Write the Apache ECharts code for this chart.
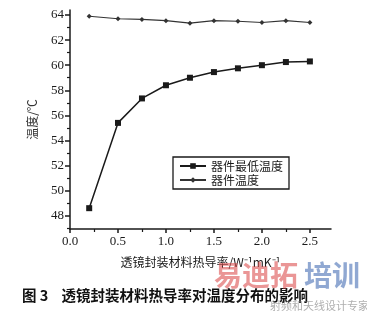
<!DOCTYPE html>
<html><head><meta charset="utf-8">
<script src="https://cdn.jsdelivr.net/npm/echarts@6/dist/echarts.min.js"></script>
<style>html,body{margin:0;padding:0;background:#fff}#c{width:367px;height:314px}</style>
</head><body><div id="c"></div>
<script>
const conductivity = [0.2, 0.5, 0.75, 1.0, 1.25, 1.5, 1.75, 2.0, 2.25, 2.5];
const minTemp = [48.6, 55.4, 57.35, 58.4, 59.0, 59.45, 59.75, 60.0, 60.25, 60.3];
const devTemp = [63.9, 63.7, 63.65, 63.55, 63.35, 63.55, 63.5, 63.4, 63.55, 63.4];
const seriesNames = ['器件最低温度', '器件温度'];
const xMajor = [0, 0.5, 1.0, 1.5, 2.0, 2.5];
const xMinor = [0.25, 0.75, 1.25, 1.75, 2.25];
const yMajor = [48, 50, 52, 54, 56, 58, 60, 62, 64];
const yMinor = [47, 49, 51, 53, 55, 57, 59, 61, 63];
const xName = '透镜封装材料热导率/W⁻¹mK⁻¹';
const yName = '温度/℃';
const caption = '图 3    透镜封装材料热导率对温度分布的影响';

const serif = '"Liberation Serif", "DejaVu Serif", serif';
const cjk = '"Noto Sans CJK SC", sans-serif';
const ink = '#1a1a1a';
const chart = echarts.init(document.getElementById('c'));
const xBase = {min: 0, max: 2.72, type: 'value', splitLine: {show: false}, gridIndex: 0};
const yBase = {min: 46.94, max: 64.4, type: 'value', splitLine: {show: false}, gridIndex: 0};
chart.setOption({
  animation: false,
  grid: {left: 70, right: 36, top: 10, bottom: 85},
  xAxis: [
    Object.assign({}, xBase, {
      position: 'bottom',
      axisLine: {show: true, lineStyle: {color: ink, width: 1.5}},
      axisTick: {show: true, length: 4, customValues: xMajor, lineStyle: {color: ink, width: 1.5}},
      axisLabel: {customValues: xMajor, formatter: v => v.toFixed(1), fontFamily: serif, fontSize: 13, color: ink, margin: 6},
      name: xName, nameLocation: 'middle', nameGap: 27,
      nameTextStyle: {fontFamily: cjk, fontSize: 12, color: ink}
    }),
    Object.assign({}, xBase, {
      position: 'bottom',
      axisLine: {show: false},
      axisTick: {show: true, length: 3, customValues: xMinor, lineStyle: {color: ink, width: 1.2}},
      axisLabel: {show: false}
    })
  ],
  yAxis: [
    Object.assign({}, yBase, {
      position: 'left',
      axisLine: {show: true, lineStyle: {color: ink, width: 1.5}},
      axisTick: {show: true, length: 5, customValues: yMajor, lineStyle: {color: ink, width: 1.5}},
      axisLabel: {customValues: yMajor, fontFamily: serif, fontSize: 13, color: ink, margin: 6},
      name: yName, nameLocation: 'middle', nameGap: 32, nameRotate: 90,
      nameTextStyle: {fontFamily: cjk, fontSize: 12, color: '#333'}
    }),
    Object.assign({}, yBase, {
      position: 'left',
      axisLine: {show: false},
      axisTick: {show: true, length: 3, customValues: yMinor, lineStyle: {color: ink, width: 1.2}},
      axisLabel: {show: false}
    })
  ],
  legend: {
    orient: 'vertical', left: 173, top: 157,
    borderColor: ink, borderWidth: 1.3, borderRadius: 0,
    padding: [3, 6, 3, 6], itemGap: 2, itemWidth: 26, itemHeight: 7,
    textStyle: {fontFamily: cjk, fontSize: 12, color: ink},
    data: seriesNames
  },
  series: [
    {
      name: seriesNames[0], type: 'line',
      data: conductivity.map((x, i) => [x, minTemp[i]]),
      symbol: 'rect', symbolSize: 6,
      lineStyle: {color: ink, width: 1.5}, itemStyle: {color: ink}
    },
    {
      name: seriesNames[1], type: 'line',
      data: conductivity.map((x, i) => [x, devTemp[i]]),
      symbol: 'diamond', symbolSize: 5,
      lineStyle: {color: '#333', width: 1.1}, itemStyle: {color: '#333'}
    }
  ],
  graphic: [
    {type: 'text', left: 22, top: 288, style: {text: caption, font: 'bold 14.5px ' + cjk, fill: '#111'}},
    {type: 'text', left: 214, top: 261, z: 100, style: {text: '易迪拓', font: 'bold 28px ' + cjk, fill: 'rgba(220,80,80,0.6)'}},
    {type: 'text', left: 304, top: 261, z: 100, style: {text: '培训', font: 'bold 28px ' + cjk, fill: 'rgba(70,110,180,0.6)'}},
    {type: 'text', left: 270, top: 300, z: 100, style: {text: '射频和天线设计专家', font: '11px ' + cjk, fill: 'rgba(120,120,120,0.6)'}}
  ]
});
</script></body></html>
